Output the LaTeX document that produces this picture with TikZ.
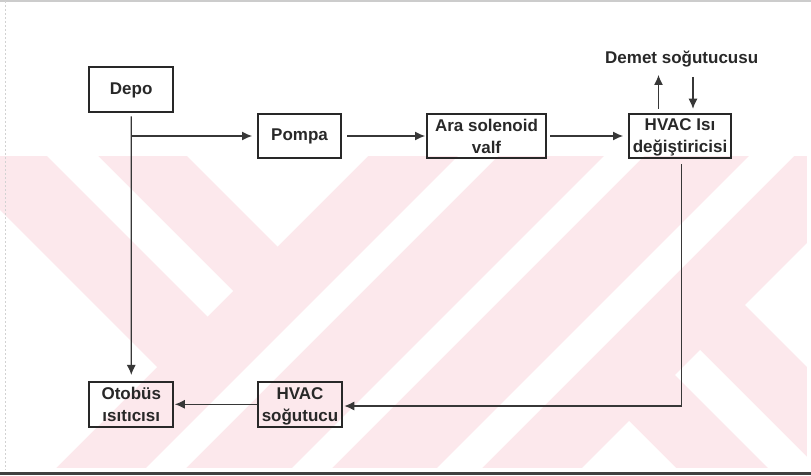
\documentclass[tikz,border=0pt]{standalone}
\usepackage{fontspec}
\setmainfont{Liberation Sans}
\usetikzlibrary{arrows.meta,calc}

\definecolor{wmpink}{RGB}{252,232,236}
\definecolor{ink}{RGB}{40,40,40}
\definecolor{wire}{RGB}{55,55,55}

\begin{document}
\begin{tikzpicture}[x=1pt,y=-1pt,
  box/.style={draw=ink, line width=2pt, inner sep=0pt, text=ink,
    font=\fontsize{17}{22}\selectfont\bfseries, align=center},
  twoline/.style={text depth=0pt},
  caption/.style={inner sep=0pt, text=ink, font=\fontsize{17}{22}\selectfont\bfseries},
  flow/.style={draw=wire, line width=1.1pt, -{Latex[length=10pt,width=9pt]}},
]
\useasboundingbox (0,0) rectangle (811,476);

% pale background band with diagonal white stripes
\fill[wmpink] (0,156) rectangle (807,468);
\begin{scope}[white]
  % left group: stripes running down to the right
  \fill (187,156) -- (368,156) -- (277.5,246.5) -- cycle;
  \fill (47,156) -- (98,156) -- (233,291) -- (207.5,316.5) -- cycle;
  \fill (0,210) -- (157,367) -- (56,468) -- (0,468) -- cycle;
  % middle group: stripes running down to the left
  \fill (458,156) -- (498,156) -- (186,468) -- (146,468) -- cycle;
  \fill (604,156) -- (644,156) -- (332,468) -- (292,468) -- cycle;
  \fill (749,156) -- (794,156) -- (482,468) -- (437,468) -- cycle;
  % right group
  \fill (745,305) -- (807,243) -- (807,367) -- cycle;
  \fill (700,350) -- (807,457) -- (807,468) -- (768,468) -- (675,375) -- cycle;
  \fill (629,421) -- (676,468) -- (582,468) -- cycle;
\end{scope}

% page frame
\draw[gray!40, line width=1.2pt] (0,1) -- (811,1);
\draw[gray!35, line width=0.8pt, dash pattern=on 2pt off 2pt] (5.5,1) -- (5.5,470);
\draw[black!75, line width=3pt] (0,473) -- (811,473);

% blocks
\node[box, minimum width=84pt, minimum height=45pt] (depo) at (131.2,90) {Depo};
\node[box, minimum width=83pt, minimum height=44.5pt] (pompa) at (299.5,136) {Pompa};
\node[box, twoline, minimum width=119pt, minimum height=44.5pt] (ara) at (486.5,136) {Ara solenoid\\valf};
\node[box, twoline, minimum width=102pt, minimum height=44.5pt] (hvac) at (680,136) {HVAC Isı\\değiştiricisi};
\node[box, twoline, minimum width=84pt, minimum height=44.7pt] (otobus) at (131.3,404.3) {Otobüs\\ısıtıcısı};
\node[box, twoline, minimum width=84.7pt, minimum height=44.7pt] (sogutucu) at (300,404.3) {HVAC\\soğutucu};
\node[caption, anchor=base] (demet) at (681.7,64) {Demet soğutucusu};

% helper points
\coordinate (split) at (depo.south |- pompa.west);
\coordinate (outtip) at (658.5,75);
\coordinate (inend) at (693,77);
\coordinate (corner) at (681.7,406);

% connections
\draw[flow, shorten <=3pt, shorten >=6pt] (depo.south) -- (otobus.north);
\draw[flow, shorten >=5pt] (split) -- (pompa.west);
\draw[flow, shorten <=5pt, shorten >=1pt] (pompa.east) -- (ara.west);
\draw[flow, shorten <=3pt, shorten >=5pt] (ara.east) -- (hvac.west);
\draw[flow, shorten <=4pt] (hvac.north -| outtip) -- (outtip);
\draw[flow, shorten >=4pt] (inend) -- (hvac.north -| inend);
\draw[flow, shorten <=5pt, shorten >=1pt] (hvac.south -| corner) -- (corner) -- (sogutucu.east |- corner);
\draw[flow, shorten >=0.5pt] (sogutucu.west) -- (otobus.east);
\end{tikzpicture}
\end{document}
